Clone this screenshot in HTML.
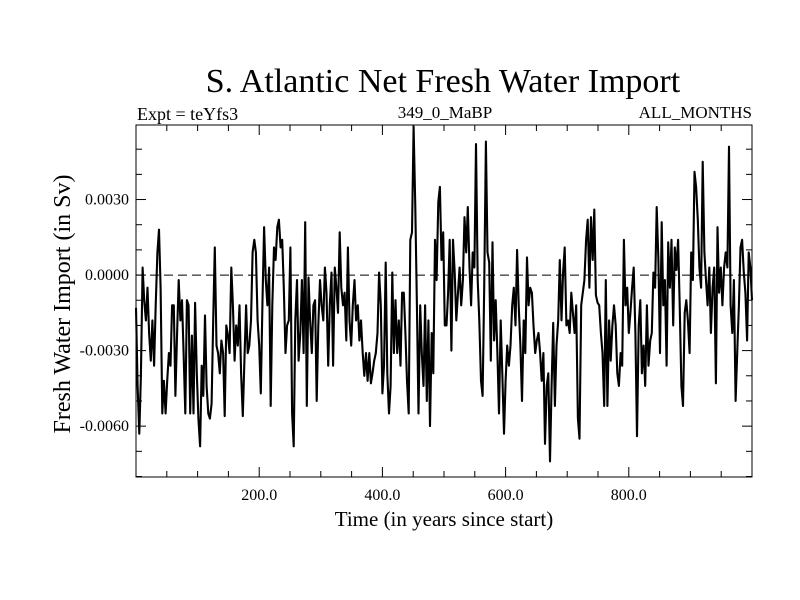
<!DOCTYPE html>
<html><head><meta charset="utf-8"><style>
body{margin:0;background:#fff}
svg{display:block;font-family:"Liberation Serif",serif}
</style></head><body>
<svg id="c" width="800" height="600">
<text x="443" y="92" font-size="34" text-anchor="middle">S. Atlantic Net Fresh Water Import</text>
<text x="137" y="120" font-size="18">Expt = teYfs3</text>
<text x="445" y="118" font-size="17" text-anchor="middle">349_0_MaBP</text>
<text x="752" y="118" font-size="17" text-anchor="end">ALL_MONTHS</text>
<text x="444" y="526" font-size="21" text-anchor="middle">Time (in years since start)</text>
<text transform="translate(70,304) rotate(-90)" font-size="24" text-anchor="middle">Fresh Water Import (in Sv)</text>
<g id="plot"></g>
</svg>
<script>
const xTickValues=[200,400,600,800];
const xTickLabels=["200.0","400.0","600.0","800.0"];
const yTickValues=[0.003,0,-0.003,-0.006];
const yTickLabels=["0.0030","0.0000","-0.0030","-0.0060"];
const xDomain=[0,1000];
const yDomain=[-0.00802,0.00596];
const valuesMilliSv=[-1.3,-4.4,-6.3,-4.0,0.3,-1.0,-1.8,-0.5,-2.3,-3.4,-1.8,-3.6,-1.2,0.9,1.8,-0.5,-5.5,-4.2,-5.5,-4.2,-3.1,-3.6,-1.2,-1.2,-4.8,-2.3,-0.2,-1.8,-1.0,-3.1,-5.5,-1.0,-1.2,-5.5,-2.4,-5.5,-1.1,-3.9,-5.7,-6.8,-3.6,-4.8,-1.6,-4.4,-5.5,-5.7,-5.1,-1.8,1.1,-2.8,-3.1,-3.9,-2.6,-3.1,-5.6,-2.0,-2.4,-3.1,0.3,-1.2,-3.4,-2.0,-2.8,-1.2,-3.9,-5.6,-3.4,-1.2,-3.1,-2.8,-1.8,0.9,1.4,0.9,-1.8,-2.8,-4.7,-1.0,1.9,-0.2,-1.2,0.3,-5.2,-1.2,1.1,0.6,1.9,2.2,1.1,1.4,-0.5,-3.1,-2.0,-1.8,1.1,-5.5,-6.8,-1.8,-0.2,-3.4,-2.3,-0.2,-3.1,2.1,-5.2,-0.1,-1.8,-3.1,-1.2,-1.0,-5.0,-2.0,-0.2,-1.2,-1.8,0.3,-0.7,-3.6,-1.2,0.1,-3.6,0.3,-0.5,-1.5,1.7,-0.5,-1.2,-0.7,-2.6,1.1,-1.8,-2.8,-1.2,-0.2,-1.8,-1.2,-2.6,-1.8,-3.1,-4.0,-3.1,-4.2,-3.1,-4.3,-3.9,-3.4,-3.1,-2.3,0.1,-1.2,-4.7,-3.6,0.5,-3.9,-5.5,-4.4,0.1,-3.1,-1.0,-3.1,-1.8,-3.6,-0.7,-0.7,-2.3,-4.2,-5.5,1.4,1.7,5.9,2.7,-1.2,-5.5,-1.2,-3.1,-4.4,-1.2,-5.0,-1.8,-6.0,-2.3,-3.9,1.4,-0.2,2.9,3.5,0.6,1.7,-2.0,
-2.0,-0.7,1.4,-3.0,1.4,0.1,-1.8,-0.7,0.3,-1.2,-0.2,2.3,0.9,2.7,0.3,-1.2,0.9,0.3,5.2,-0.2,-1.8,-4.2,-4.8,-0.5,5.3,0.9,0.5,-3.4,1.3,-2.6,-1.0,-3.1,-5.5,-1.8,-3.9,-6.3,-4.2,-2.8,-3.6,-2.8,-1.2,-0.5,-2.0,1.0,-1.2,-2.8,-5.0,-1.8,-3.1,0.7,-1.2,-0.5,-0.7,-2.0,-3.1,-2.6,-2.3,-3.1,-4.2,-3.1,-6.7,-4.4,-3.9,-7.4,-4.4,-1.9,-5.2,-2.8,-1.8,0.6,-1.8,0.1,1.1,-2.0,-1.8,-2.3,-0.7,-1.5,-2.3,-1.2,-5.7,-6.5,-1.2,-0.7,-0.2,1.4,2.2,-0.5,2.3,0.6,2.6,-0.8,-1.1,-1.2,-2.3,-3.1,-5.2,-0.2,-5.2,-1.8,-3.4,-2.0,-1.2,-2.0,-3.9,-4.4,-3.1,-3.6,1.4,-1.2,-0.5,-2.3,-1.5,-0.5,0.3,-2.3,-6.4,-2.0,-1.0,-3.9,-2.8,-4.4,-1.2,-3.6,-2.6,-2.3,0.1,-0.5,2.7,0.6,-3.1,2.1,-1.2,-0.2,-3.6,1.3,-0.5,1.4,-2.0,1.1,0.2,1.4,-1.2,-4.4,-5.2,-1.5,-1.0,-1.8,-3.1,0.9,-0.2,4.1,3.5,2.2,0.3,-0.5,4.5,0.9,-0.2,-1.2,0.3,-2.3,-0.5,0.3,-4.3,1.9,-0.7,0.3,-1.2,0.3,0.9,0.3,5.1,-1.2,-2.3,-0.2,-5.0,-3.1,-1.2,1.1,1.4,0.1,-0.7,-2.6,0.9,0.3,-1.0];

const L=136,R=752,T=125,B=477;
const sx=v=>L+(v-xDomain[0])/(xDomain[1]-xDomain[0])*(R-L);
const sy=v=>B-(v-yDomain[0])/(yDomain[1]-yDomain[0])*(B-T);
const NS="http://www.w3.org/2000/svg";
const g=document.getElementById('plot');
function mk(tag,attrs){const e=document.createElementNS(NS,tag);for(const k in attrs)e.setAttribute(k,attrs[k]);g.appendChild(e);return e;}

const n=valuesMilliSv.length;
let d="";
valuesMilliSv.forEach((v,i)=>{const yr=xDomain[0]+i*(xDomain[1]-xDomain[0])/(n-1);d+=(i?"L":"M")+sx(yr).toFixed(1)+","+sy(v*0.001).toFixed(1);});
const zl=mk('line',{x1:L,x2:R,y1:sy(0),y2:sy(0),stroke:'#000','stroke-width':1,'stroke-dasharray':'9,5'});


const ln=mk('path',{d:d,fill:'none',stroke:'#000','stroke-width':2.1,'stroke-linejoin':'round'});



const fr=mk('rect',{x:L,y:T,width:R-L,height:B-T,fill:'none',stroke:'#000','stroke-width':1});



for(let yv=50;yv<1000;yv+=50){
  const len=(yv%200===0)?10:6;
  const t1=mk('line',{x1:sx(yv),x2:sx(yv),y1:B,y2:B-len,stroke:'#000','stroke-width':1});
  
  
  const t2=mk('line',{x1:sx(yv),x2:sx(yv),y1:T,y2:T+len,stroke:'#000','stroke-width':1});
  
  
}
xTickValues.forEach((v,i)=>{
  const t=mk('text',{x:sx(v),y:500,'font-size':16,'text-anchor':'middle'});
  t.textContent=xTickLabels[i];
  
  
});
for(let k=-8;k<=5;k++){
  const v=k*0.001;
  const len=(k%3===0)?10:6;
  const a=mk('line',{x1:L,x2:L+len,y1:sy(v),y2:sy(v),stroke:'#000','stroke-width':1});
  
  
  const b=mk('line',{x1:R,x2:R-len,y1:sy(v),y2:sy(v),stroke:'#000','stroke-width':1});
  
  
}
yTickValues.forEach((v,i)=>{
  const t=mk('text',{x:129,y:sy(v)+5,'font-size':16,'text-anchor':'end'});
  t.textContent=yTickLabels[i];
  
  
});
</script>
</body></html>
